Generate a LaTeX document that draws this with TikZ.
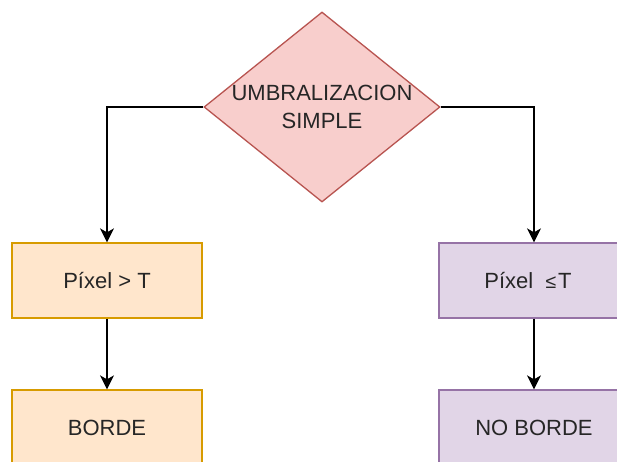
\documentclass[tikz,border=0pt]{standalone}
\usepackage{fontspec}
\setmainfont{Liberation Sans}
\usetikzlibrary{shapes.geometric,arrows.meta}
\definecolor{dfill}{HTML}{F8CECC}
\definecolor{dline}{HTML}{B85450}
\definecolor{ofill}{HTML}{FFE6CC}
\definecolor{oline}{HTML}{D79B00}
\definecolor{pfill}{HTML}{E1D5E7}
\definecolor{pline}{HTML}{9673A6}
\definecolor{txt}{HTML}{262626}
\tikzset{
  box/.style={rectangle, minimum width=190pt, minimum height=75pt, inner sep=0pt, line width=1.3pt},
  obox/.style={box, draw=oline, fill=ofill},
  pbox/.style={box, draw=pline, fill=pfill},
  lbl/.style={text=txt, font=\fontsize{22}{28}\selectfont, align=center, inner sep=0pt},
  conn/.style={draw=black, line width=1.3pt, -{Stealth[length=14pt, width=14pt, inset=4pt]}}
}
\begin{document}
\begin{tikzpicture}[x=1pt,y=-1pt]
\useasboundingbox (0,0) rectangle (617,461);
\clip (0,0) rectangle (617,461);
\fill[white] (0,0) rectangle (617,461);
\node[diamond, draw=dline, fill=dfill, line width=1.3pt, minimum width=236pt, minimum height=190pt, inner sep=0pt] (d) at (322,107) {};
\node[lbl] (dt) at (d.center) {UMBRALIZACION\\SIMPLE};
\node[obox] (a) at (107,280.5) {};
\node[lbl] (at) at (a.center) {Píxel > T};
\node[obox] (b) at (107,427.5) {};
\node[lbl] (bt) at (b.center) {BORDE};
\node[pbox] (c) at (534,280.5) {};
\node[lbl] (ct) at ([xshift=-6pt]c.center) {Píxel\ \ {\fontsize{19.5}{19.5}\selectfont ≤}\hspace{2pt}T};
\node[pbox] (e) at (534,427.5) {};
\node[lbl] (et) at (e.center) {NO BORDE};
\draw[conn] (d.west) -| (a.north);
\draw[conn] (d.east) -| (c.north);
\draw[conn] (a.south) -- (b.north);
\draw[conn] (c.south) -- (e.north);
\end{tikzpicture}
\end{document}
